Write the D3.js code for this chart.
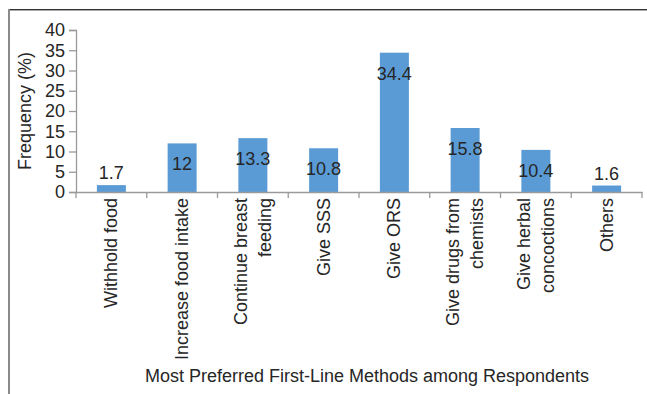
<!DOCTYPE html>
<html>
<head>
<meta charset="utf-8">
<script src="https://cdn.jsdelivr.net/npm/d3@7"></script>
<style>
  html, body { margin: 0; padding: 0; background: #fff; }
  svg { display: block; }
  text { font-family: "Liberation Sans", Arial, sans-serif; fill: #262626; }
</style>
</head>
<body>
<script>
const categories = [
  ["Withhold food"],
  ["Increase food intake"],
  ["Continue breast", "feeding"],
  ["Give SSS"],
  ["Give ORS"],
  ["Give drugs from", "chemists"],
  ["Give herbal", "concoctions"],
  ["Others"]
];
const values = [1.7, 12, 13.3, 10.8, 34.4, 15.8, 10.4, 1.6];
const yTicks = [0, 5, 10, 15, 20, 25, 30, 35, 40];
const yTitle = "Frequency (%)";
const xTitle = "Most Preferred First-Line Methods among Respondents";

(function () {
const W = 647, H = 394;
const svg = d3.select("body").append("svg").attr("width", W).attr("height", H);

// frame
svg.append("line").attr("x1", 9).attr("x2", W).attr("y1", 9.5).attr("y2", 9.5).attr("stroke", "#333").attr("stroke-width", 1);
svg.append("line").attr("x1", 9).attr("x2", W).attr("y1", 10.5).attr("y2", 10.5).attr("stroke", "#a8a8a8").attr("stroke-width", 1);
svg.append("line").attr("x1", 9).attr("x2", 9).attr("y1", 9).attr("y2", H).attr("stroke", "#8a8a8a").attr("stroke-width", 2);

const mLeft = 76, mRight = 642, mTop = 30, mBottom = 192;
const idx = categories.map((d, i) => i);
const x = d3.scaleBand().domain(idx).range([mLeft, mRight]).padding(0);
const y = d3.scaleLinear().domain([0, 40]).range([mBottom, mTop]);
const barW = x.bandwidth() * 0.41;
const axisColor = "#9a9a9a";
const fs = 18;

// y axis
const yAxis = d3.axisLeft(y).tickValues(yTicks).tickSize(7).tickPadding(4).tickFormat(d3.format("d"));
const gy = svg.append("g").attr("transform", `translate(${mLeft},0)`).call(yAxis);
gy.select(".domain").attr("stroke", axisColor).attr("stroke-width", 1.3);
gy.selectAll(".tick line").attr("stroke", axisColor).attr("stroke-width", 1.3);
gy.selectAll(".tick text").attr("font-size", fs).attr("font-family", "Liberation Sans, Arial, sans-serif").attr("fill", "#262626");

// bars
svg.selectAll("rect.bar").data(values).enter().append("rect")
  .attr("class", "bar")
  .attr("x", (d, i) => x(i) + (x.bandwidth() - barW) / 2)
  .attr("width", barW)
  .attr("y", d => y(d))
  .attr("height", d => y(0) - y(d))
  .attr("fill", "#5b9bd5");

// x axis
const xAxis = d3.axisBottom(x).tickSize(0).tickFormat("");
const gx = svg.append("g").attr("transform", `translate(0,${mBottom})`).call(xAxis);
gx.select(".domain").attr("stroke", axisColor).attr("stroke-width", 1.3);
gx.selectAll(".tick").remove();
const bounds = idx.map(i => x(i)).concat([mRight]);
svg.selectAll("line.xt").data(bounds).enter().append("line")
  .attr("x1", d => d).attr("x2", d => d)
  .attr("y1", mBottom).attr("y2", mBottom + 6)
  .attr("stroke", axisColor).attr("stroke-width", 1.3);

// value labels
svg.selectAll("text.val").data(values).enter().append("text")
  .attr("class", "val")
  .attr("x", (d, i) => x(i) + x.bandwidth() / 2)
  .attr("y", d => (y(0) - y(d) < 30) ? y(d) - 12 : y(d) + 21)
  .attr("text-anchor", "middle")
  .attr("dominant-baseline", "central")
  .attr("font-size", fs)
  .text(d => d);

// category labels (rotated)
const labTop = 198;
categories.forEach((lines, i) => {
  const cx = x(i) + x.bandwidth() / 2;
  const t = svg.append("text")
    .attr("transform", `translate(${cx},${labTop}) rotate(-90)`)
    .attr("text-anchor", "end")
    .attr("font-size", fs);
  lines.forEach((ln, j) => {
    t.append("tspan")
      .attr("x", 0)
      .attr("y", (j - (lines.length - 1) / 2) * 24)
      .attr("dominant-baseline", "central")
      .text(ln);
  });
});

// axis titles
svg.append("text")
  .attr("x", (mLeft + mRight) / 2 + 8)
  .attr("y", 376)
  .attr("text-anchor", "middle")
  .attr("dominant-baseline", "central")
  .attr("font-size", fs)
  .text(xTitle);

svg.append("text")
  .attr("transform", `translate(25,${(mTop + mBottom) / 2}) rotate(-90)`)
  .attr("text-anchor", "middle")
  .attr("dominant-baseline", "central")
  .attr("font-size", fs)
  .text(yTitle);
})();
</script>
</body>
</html>
